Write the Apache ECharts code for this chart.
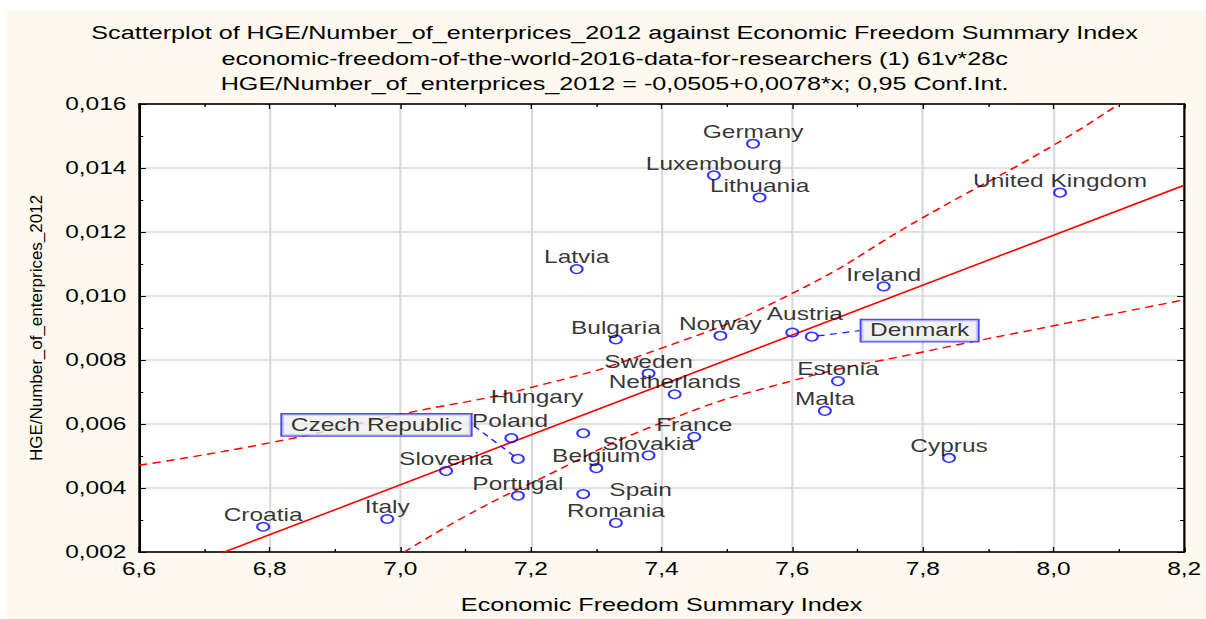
<!DOCTYPE html>
<html>
<head>
<meta charset="UTF-8">
<title>HGE / enterprises vs Economic Freedom</title>
<script src="https://cdn.jsdelivr.net/npm/echarts@6/dist/echarts.min.js"></script>
<style type="text/css">
html, body { margin: 0; padding: 0; width: 100%; height: 100%; overflow: hidden; background: #fdf9ef; }
#wrap { position: absolute; left: 0; top: 0; width: 1206px; height: 619px; overflow: hidden; background: #fff; transform-origin: 0 0; }
#frame { position: absolute; left: 7px; top: 10px; width: 1199px; height: 609px; background: #fdf9ef; }
/* the original picture is stretched sideways, so draw narrow and stretch */
#main { position: absolute; left: 0; top: 0; width: 861px; height: 619px; overflow: hidden; transform: scaleX(1.4); transform-origin: 0 0; }
</style>
</head>
<body>
<div id="wrap">
	<div id="frame"></div>
	<div id="main"></div>
</div>
<script type="text/javascript">
// data
var countries = ['Germany', 'Luxembourg', 'Lithuania', 'United Kingdom', 'Latvia', 'Ireland',
	'Bulgaria', 'Norway', 'Austria', 'Denmark', 'Sweden', 'Netherlands', 'Estonia', 'Malta',
	'Hungary', 'Poland', 'Czech Republic', 'France', 'Slovakia', 'Slovenia', 'Belgium', 'Cyprus',
	'Portugal', 'Spain', 'Romania', 'Italy', 'Croatia'];
var freedomIndex = [7.54, 7.48, 7.55, 8.01, 7.27, 7.74,
	7.33, 7.49, 7.60, 7.63, 7.38, 7.42, 7.67, 7.65,
	7.28, 7.17, 7.18, 7.45, 7.38, 7.07, 7.30, 7.84,
	7.18, 7.28, 7.33, 6.98, 6.79];
var hgePerEnterprise = [0.01476, 0.01377, 0.01308, 0.01323, 0.01084, 0.01030,
	0.00864, 0.00876, 0.00886, 0.00873, 0.00758, 0.00693, 0.00734, 0.00641,
	0.00571, 0.00556, 0.00491, 0.00560, 0.00502, 0.00453, 0.00462, 0.00494,
	0.00376, 0.00381, 0.00291, 0.00303, 0.00279];

// regression from the title: y = -0,0505 + 0,0078*x
var fitIntercept = -0.0505;
var fitSlope = 0.0078;
var fitX = [6.6, 8.2];

// 0,95 confidence band
var upperX = [6.6, 6.8, 7.0, 7.2, 7.4, 7.6, 7.8, 8.0, 8.1];
var upperY = [0.00471, 0.00541, 0.00630, 0.00714, 0.00837, 0.01008, 0.01245, 0.01471, 0.01600];
var lowerX = [7.006, 7.1, 7.2, 7.4, 7.6, 7.8, 8.0, 8.2];
var lowerY = [0.00200, 0.00312, 0.00415, 0.00604, 0.00735, 0.00825, 0.00907, 0.00988];

var xTicks = { min: 6.6, max: 8.2, step: 0.2 };
var yTicks = { min: 0.002, max: 0.016, step: 0.002 };

var titleLines = [
	'Scatterplot of HGE/Number_of_enterprices_2012 against Economic Freedom Summary Index',
	'economic-freedom-of-the-world-2016-data-for-researchers (1) 61v*28c',
	'HGE/Number_of_enterprices_2012 = -0,0505+0,0078*x; 0,95 Conf.Int.'
];

// label placement (internal px, before the sideways stretch)
var labelDefault = [0, -11.5];
var labelNudge = {
	'Austria': [9, -18],
	'Hungary': [-33, -36],
	'Poland': [-1, -17],
	'Spain': [41, -4],
	'Czech Republic': [-101, -34],
	'Denmark': [77, -6]
};
var boxedLabels = ['Czech Republic', 'Denmark'];

var FONT = "'Liberation Sans', Arial, sans-serif";

// keep the 1206x619 drawing filling whatever the viewport really is
var wrap = document.getElementById('wrap');
var vw = document.documentElement.clientWidth || 1206;
var vh = document.documentElement.clientHeight || 619;
wrap.style.transform = 'scale(' + (vw / 1206) + ',' + (vh / 619) + ')';

function zip(xs, ys) {
	var out = [];
	for (var i = 0; i < xs.length; i++) out.push([xs[i], ys[i]]);
	return out;
}

var points = [];
for (var i = 0; i < countries.length; i++) {
	var name = countries[i];
	var item = { name: name, value: [freedomIndex[i], hgePerEnterprise[i]] };
	if (boxedLabels.indexOf(name) >= 0) {
		item.label = {
			backgroundColor: '#efefef', borderColor: '#1c1cff', borderWidth: 1.4,
			padding: [2, 6, 1, 6]
		};
		item.labelLine = { show: true, lineStyle: { color: '#1c1cff', width: 1.2, type: [5, 4] } };
	}
	points.push(item);
}

var fitLine = fitX.map(function (x) { return [x, fitIntercept + fitSlope * x]; });

var chart = echarts.init(document.getElementById('main'), null, { renderer: 'svg' });

var axisCommon = {
	axisLine: { show: true, onZero: false, lineStyle: { color: '#000', width: 1.5 } },
	axisTick: { show: true, inside: true, length: 5, lineStyle: { color: '#000', width: 1 } },
	minorTick: { show: true, splitNumber: 2, length: 3, lineStyle: { color: '#000', width: 1 } }
};

function fmt(digits) {
	return function (v) { return v.toFixed(digits).replace('.', ','); };
}

function titleText(line, y) {
	return { type: 'text', x: 439, y: y, style: { text: line, fontSize: 18, fontFamily: FONT, fill: '#000', align: 'center', verticalAlign: 'middle' } };
}

var option = {
	animation: false,
	grid: { left: 99.3, right: 10.3, top: 104, bottom: 60, show: true, backgroundColor: '#fff', borderColor: '#000', borderWidth: 1 },
	xAxis: [
		echarts.util.merge({
			type: 'value', position: 'bottom', min: xTicks.min, max: xTicks.max, interval: xTicks.step,
			splitLine: { show: true, lineStyle: { color: '#d9d9d9', width: 1.5 } },
			axisLabel: { formatter: fmt(1), color: '#000', fontSize: 17.5, fontFamily: FONT, margin: 8 },
			name: 'Economic Freedom Summary Index', nameLocation: 'middle', nameGap: 44,
			nameTextStyle: { color: '#000', fontSize: 18, fontFamily: FONT }
		}, axisCommon, true),
		echarts.util.merge({
			type: 'value', position: 'top', min: xTicks.min, max: xTicks.max, interval: xTicks.step,
			splitLine: { show: false }, axisLabel: { show: false }
		}, axisCommon, true)
	],
	yAxis: [
		echarts.util.merge({
			type: 'value', position: 'left', min: yTicks.min, max: yTicks.max, interval: yTicks.step,
			splitLine: { show: true, lineStyle: { color: '#d9d9d9', width: 1.5 } },
			axisLabel: { formatter: fmt(3), color: '#000', fontSize: 17.5, fontFamily: FONT, margin: 9 }
		}, axisCommon, true),
		echarts.util.merge({
			type: 'value', position: 'right', min: yTicks.min, max: yTicks.max, interval: yTicks.step,
			splitLine: { show: false }, axisLabel: { show: false }
		}, axisCommon, true)
	],
	graphic: [
		titleText(titleLines[0], 33),
		titleText(titleLines[1], 58.5),
		titleText(titleLines[2], 84),
		// y axis title, squeezed so it is thin after the stretch
		{ type: 'text', x: 26.4, y: 328, rotation: Math.PI / 2, scaleY: 0.68,
			style: { text: 'HGE/Number_of_enterprices_2012', fontSize: 17, fontFamily: FONT, fill: '#000', align: 'center', verticalAlign: 'middle' } }
	],
	series: [
		{
			type: 'line', data: zip(upperX, upperY), smooth: true, symbol: 'none', silent: true, clip: true,
			lineStyle: { color: '#ff0000', width: 1.4, type: [6, 4] }, z: 2
		},
		{
			type: 'line', data: zip(lowerX, lowerY), smooth: true, symbol: 'none', silent: true, clip: true,
			lineStyle: { color: '#ff0000', width: 1.4, type: [6, 4] }, z: 2
		},
		{
			type: 'line', data: fitLine, symbol: 'none', silent: true, clip: true,
			lineStyle: { color: '#ff0000', width: 1.5 }, z: 2
		},
		{
			type: 'scatter', data: points, symbol: 'circle', symbolSize: 8.5, z: 3,
			itemStyle: { color: 'rgba(0,0,0,0)', borderColor: '#0000ff', borderWidth: 1.5 },
			label: {
				show: true, position: 'inside', formatter: '{b}',
				color: '#000', fontSize: 17.5, fontFamily: FONT
			},
			labelLayout: function (p) {
				var shift = labelNudge[countries[p.dataIndex]] || labelDefault;
				return { dx: shift[0], dy: shift[1] };
			}
		}
	]
};

chart.setOption(option);
</script>
</body>
</html>
